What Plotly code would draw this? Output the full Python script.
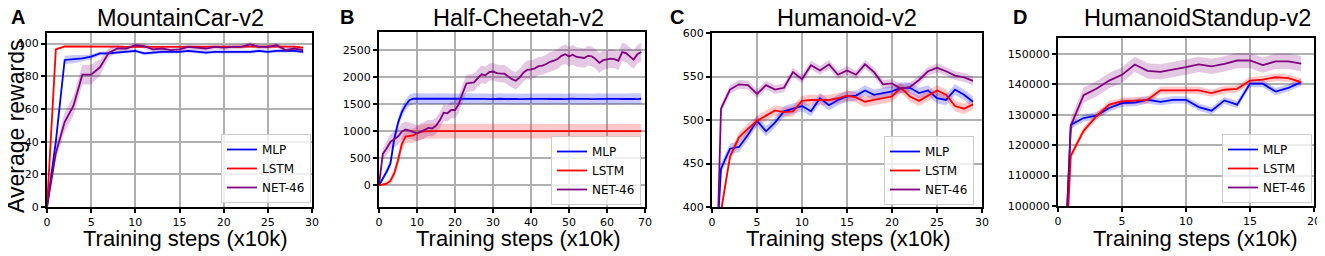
import plotly.graph_objects as go

# page body keeps an 8px default margin, so the figure is drawn 8px smaller and shifted
PAGE_W, PAGE_H, OFF = 1325, 256, 8
W, H = PAGE_W - OFF, PAGE_H - OFF

# ---------------- data ----------------
series_names = ["MLP", "LSTM", "NET-46"]
series_colors = ["#0000ff", "#ff0000", "#800080"]
band_colors = ["rgba(0,0,255,0.22)", "rgba(255,0,0,0.22)", "rgba(128,0,128,0.22)"]

panel_titles = ["MountainCar-v2", "Half-Cheetah-v2", "Humanoid-v2", "HumanoidStandup-v2"]
panel_letters = ["A", "B", "C", "D"]
x_title = "Training steps (x10k)"
y_title = "Average rewards"

# A: MountainCar-v2 (steps 0..29)
stepsA = list(range(30))
mlpA = [0, 40, 90, 90.5, 91, 92, 94, 94, 94.5, 95, 95.5, 94, 94.5, 95, 95, 95, 95.5, 95, 94.5, 95,
        95, 95, 95, 95, 95.5, 95, 95.5, 95.5, 95.5, 95]
lstmA = [0, 96.5, 98.3, 98.3, 98.5, 98.3, 98.3, 98.3, 98.2, 98, 98, 98, 98, 98.2, 98, 97.8, 98, 98, 98, 98,
         98, 98, 98, 98, 98, 98, 98, 98, 98.2, 97.5]
netA = [0, 33, 52, 62, 81, 81, 85.5, 94.5, 97, 97, 99, 98.5, 96.5, 97, 96, 96.5, 98, 97.5, 97, 98,
        97.5, 98, 98, 99.5, 98, 98, 99, 96, 97, 96]
mlpA_sd = [0, 2, 2.5, 2.5, 2, 1.5, 1.2, 1, 1, 1, 1, 1, 1, 1, 1, 1, 1, 1, 1, 1,
           1, 1, 1, 1, 1, 1, 1, 1, 1, 1]
lstmA_sd = [0, 0.8, 0.6, 0.6, 0.6, 0.6, 0.6, 0.6, 0.6, 0.6, 0.6, 0.6, 0.6, 0.6, 0.6, 0.6, 0.6, 0.6, 0.6, 0.6,
            0.6, 0.6, 0.6, 0.6, 0.6, 0.6, 0.6, 0.6, 0.6, 0.6]
netA_sd = [0, 4, 6, 6, 6, 6, 5, 3, 2, 1.5, 1.5, 1.5, 1.5, 1.5, 1.5, 1.5, 1.5, 1.5, 1.5, 1.5,
           1.5, 1.5, 1.5, 1.5, 1.5, 1.5, 1.5, 1.5, 1.5, 1.5]

# B: Half-Cheetah-v2 (steps 0..69)
stepsB = list(range(70))
mlpB = [0, 120, 250, 400, 850, 1150, 1350, 1480, 1570, 1600,
        1598, 1595, 1600, 1597, 1593, 1598, 1600, 1596, 1594, 1598,
        1600, 1597, 1595, 1600, 1598, 1594, 1597, 1600, 1596, 1590,
        1595, 1600, 1598, 1593, 1597, 1600, 1595, 1592, 1597, 1600,
        1596, 1594, 1598, 1600, 1595, 1593, 1598, 1600, 1596, 1592,
        1598, 1600, 1594, 1597, 1600, 1595, 1592, 1598, 1600, 1596,
        1594, 1598, 1600, 1595, 1593, 1597, 1600, 1596, 1592, 1598]
lstmB = [0, 10, 30, 80, 220, 460, 760, 900, 915, 920,
         960, 985, 995, 1000, 1000, 1002, 1000, 1000, 1001, 1000,
         1000, 1001, 999, 1000, 1002, 1000, 999, 1000, 1001, 1000,
         1000, 1002, 1000, 999, 1000, 1001, 1000, 1000, 999, 1000,
         1001, 1000, 1000, 1002, 1000, 999, 1000, 1001, 1000, 1000,
         999, 1000, 1001, 1000, 1000, 1002, 1000, 999, 1000, 1001,
         1000, 1000, 999, 1000, 1001, 1000, 1000, 1002, 1000, 999]
netB = [0, 580, 680, 800, 850, 900, 990, 1030, 1010, 990,
        960, 990, 1020, 1060, 1050, 1100, 1200, 1340, 1330, 1390,
        1390, 1500, 1700, 1880, 1890, 1900, 1980, 2050, 2030, 2090,
        2100, 2070, 2060, 2060, 2010, 1960, 1930, 1990, 2080, 2130,
        2140, 2160, 2200, 2210, 2240, 2280, 2300, 2330, 2390, 2420,
        2380, 2410, 2370, 2360, 2350, 2390, 2380, 2330, 2260, 2310,
        2320, 2340, 2330, 2300, 2460, 2440, 2380, 2320, 2420, 2460]
mlpB_sd = [0, 40, 60, 80, 90, 100, 100, 100, 100, 100,
           100, 100, 100, 100, 100, 100, 100, 100, 100, 100,
           100, 100, 100, 100, 100, 100, 100, 100, 100, 100,
           100, 100, 100, 100, 100, 100, 100, 100, 100, 100,
           100, 100, 100, 100, 100, 100, 100, 100, 100, 100,
           100, 100, 100, 100, 100, 100, 100, 100, 100, 100,
           100, 100, 100, 100, 100, 100, 100, 100, 100, 100]
lstmB_sd = [0, 20, 40, 60, 80, 100, 120, 130, 130, 130,
            135, 135, 135, 135, 135, 135, 135, 135, 135, 135,
            135, 135, 135, 135, 135, 135, 135, 135, 135, 135,
            135, 135, 135, 135, 135, 135, 135, 135, 135, 135,
            135, 135, 135, 135, 135, 135, 135, 135, 135, 135,
            135, 135, 135, 135, 135, 135, 135, 135, 135, 135,
            135, 135, 135, 135, 135, 135, 135, 135, 135, 135]
netB_sd = [0, 100, 130, 140, 150, 150, 150, 150, 150, 150,
           150, 150, 150, 150, 150, 150, 150, 150, 150, 150,
           150, 160, 160, 160, 160, 160, 160, 160, 160, 160,
           160, 160, 160, 160, 160, 160, 160, 160, 160, 170,
           170, 170, 170, 170, 170, 180, 180, 180, 180, 180,
           180, 180, 180, 180, 180, 180, 180, 180, 180, 180,
           170, 170, 170, 170, 170, 170, 170, 170, 170, 170]

# C: Humanoid-v2 (steps 0..29)
stepsC = list(range(30))
mlpC = [260, 444, 467, 469, 483, 499, 487, 497, 510, 513, 516, 510, 525, 517, 523, 527, 528, 534, 529, 531,
        533, 537, 537, 531, 534, 525, 523, 535, 529, 521]
lstmC = [250, 395, 458, 480, 490, 499, 505, 511, 509, 510, 522, 523, 523, 523, 525, 528, 526, 521, 523, 525,
         527, 537, 527, 522, 528, 534, 529, 516, 513, 518]
netC = [130, 513, 535, 541, 540, 530, 540, 535, 537, 555, 547, 563, 557, 564, 552, 557, 552, 564, 555, 541,
        542, 536, 538, 546, 556, 560, 556, 551, 549, 545]
mlpC_sd = [6] * 30
lstmC_sd = [6] * 30
netC_sd = [5] * 30

# D: HumanoidStandup-v2 (steps 0..19)
stepsD = list(range(20))
mlpD = [30000, 126700, 128900, 129700, 132200, 133800, 134000, 134900, 134200, 134900,
        134900, 132500, 131300, 134700, 133300, 140200, 140200, 137600, 138800, 140700]
lstmD = [30000, 116500, 124700, 129500, 133300, 134400, 134600, 134900, 138000, 138000,
         138000, 138000, 137100, 138200, 138500, 141200, 141500, 142300, 142000, 140700]
netD = [30000, 126400, 136400, 138500, 141200, 143100, 146500, 144400, 144100, 144800,
        145600, 146500, 145900, 146700, 147800, 147800, 146300, 147500, 147500, 146800]
mlpD_sd = [1200] * 20
lstmD_sd = [1200] * 20
netD_sd = [2500] * 20

x_ranges = [[0, 30], [0, 70], [0, 30], [0, 20]]
x_dticks = [5, 10, 5, 5]
y_ranges = [[0, 106.5], [-400, 2830], [400, 600], [100000, 155200]]
y_dticks = [20, 500, 50, 10000]

panels = [
    (stepsA, [mlpA, lstmA, netA], [mlpA_sd, lstmA_sd, netA_sd]),
    (stepsB, [mlpB, lstmB, netB], [mlpB_sd, lstmB_sd, netB_sd]),
    (stepsC, [mlpC, lstmC, netC], [mlpC_sd, lstmC_sd, netC_sd]),
    (stepsD, [mlpD, lstmD, netD], [mlpD_sd, lstmD_sd, netD_sd]),
]

# ---------------- layout (page-pixel boxes) ----------------
plot_boxes = [(47, 312, 33, 207), (379, 645, 32, 207), (712, 982, 33, 207), (1058, 1314, 38, 206)]
title_cx = [180, 518, 847, 1197]
xlabel_cx = [185, 518, 848, 1195]
letter_x = [9, 338, 668, 1011]
legend_box = [(311, 203), (641, 205), (974, 205), (1312, 203)]


def px(x):
    return (x - OFF) / W


def py(y):
    return 1 - (y - OFF) / H


fig = go.Figure()

for i, (steps, means, sds) in enumerate(panels):
    suffix = "" if i == 0 else str(i + 1)
    xa, ya = "x" + suffix, "y" + suffix
    leg = "legend" + suffix
    for k in range(3):
        m, s = means[k], sds[k]
        upper = [a + b for a, b in zip(m, s)]
        lower = [a - b for a, b in zip(m, s)]
        fig.add_trace(go.Scatter(x=steps + steps[::-1], y=upper + lower[::-1], fill="toself",
                                 fillcolor=band_colors[k], line=dict(width=0), mode="lines",
                                 hoverinfo="skip", showlegend=False, xaxis=xa, yaxis=ya))
    for k in range(3):
        fig.add_trace(go.Scatter(x=steps, y=means[k], mode="lines", name=series_names[k],
                                 line=dict(color=series_colors[k], width=1.8),
                                 xaxis=xa, yaxis=ya, legend=leg))

axis_common = dict(showgrid=True, gridcolor="#b0b0b0", gridwidth=2, zeroline=False,
                   showline=True, linecolor="black", linewidth=2, mirror=True,
                   ticks="outside", ticklen=4, tickwidth=1.5, tickcolor="black",
                   automargin=False, tickformat="d",
                   tickfont=dict(family="DejaVu Sans", size=11, color="black"))

lay = dict(width=W, height=H, margin=dict(l=0, r=0, t=0, b=0, autoexpand=False),
           paper_bgcolor="white", plot_bgcolor="white", annotations=[])

for i in range(4):
    suffix = "" if i == 0 else str(i + 1)
    l, r, t, b = plot_boxes[i]
    lay["xaxis" + suffix] = dict(axis_common, domain=[px(l), px(r)], range=x_ranges[i],
                                 dtick=x_dticks[i], tick0=0, anchor="y" + suffix)
    lay["yaxis" + suffix] = dict(axis_common, domain=[py(b), py(t)], range=y_ranges[i],
                                 dtick=y_dticks[i], tick0=0, anchor="x" + suffix)
    lx, ly = legend_box[i]
    lay["legend" + suffix] = dict(x=px(lx), y=py(ly), xanchor="right", yanchor="bottom",
                                  xref="paper", yref="paper",
                                  bgcolor="rgba(255,255,255,0.8)", bordercolor="#cccccc", borderwidth=1,
                                  itemwidth=30, tracegroupgap=0,
                                  font=dict(family="DejaVu Sans", size=12, color="black"))
    lay["annotations"].append(dict(text=panel_titles[i], x=px(title_cx[i]), y=py(18),
                                   xref="paper", yref="paper", showarrow=False,
                                   xanchor="center", yanchor="middle",
                                   font=dict(family="Liberation Sans", size=23.5, color="black")))
    lay["annotations"].append(dict(text="<b>" + panel_letters[i] + "</b>", x=px(letter_x[i]),
                                   y=py(17), xref="paper", yref="paper", showarrow=False,
                                   xanchor="left", yanchor="middle",
                                   font=dict(family="Liberation Sans", size=20, color="black")))
    lay["annotations"].append(dict(text=x_title, x=px(xlabel_cx[i]), y=py(238),
                                   xref="paper", yref="paper", showarrow=False,
                                   xanchor="center", yanchor="middle",
                                   font=dict(family="Liberation Sans", size=22, color="black")))

lay["annotations"].append(dict(text=y_title, x=px(16), y=py(127), xref="paper", yref="paper",
                               showarrow=False, textangle=-90, xanchor="center", yanchor="middle",
                               font=dict(family="Liberation Sans", size=23, color="black")))

fig.update_layout(**lay)
fig.write_html("out.html")
